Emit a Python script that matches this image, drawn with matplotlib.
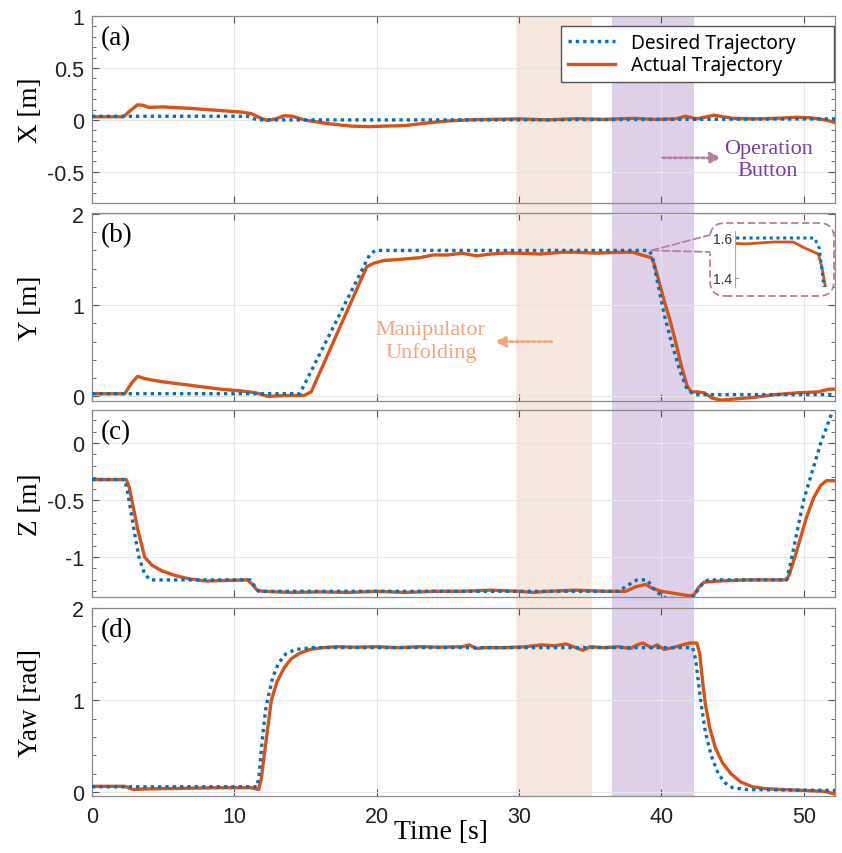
import numpy as np
import matplotlib
matplotlib.use("Agg")
import matplotlib.pyplot as plt
from matplotlib.patches import Rectangle, FancyBboxPatch, ConnectionPatch
from matplotlib.lines import Line2D
from matplotlib.ticker import MultipleLocator
import matplotlib.transforms as mtrans

# ---------------- data ----------------
t_x_des = [0, 10.9, 11.6, 30, 52.2]
x_des = [0.035, 0.035, 0.0, 0.0, 0.01]
t_x_act = [0, 2.2, 2.7, 3.2, 3.6, 4.0, 5.0, 7, 9, 10.5, 11.2, 11.8, 12.3, 12.9, 13.5, 14.1,
           14.9, 16.5, 18.2, 19.5, 20.5, 22, 23.5, 25, 26.5, 28, 30, 32, 34, 36, 38, 39.5,
           41, 41.7, 42.5, 43.7, 45, 46.5, 48, 49.5, 50.5, 51.5, 52.2]
x_act = [0.03, 0.03, 0.09, 0.145, 0.14, 0.12, 0.125, 0.11, 0.09, 0.075, 0.06, 0.02, -0.005,
         0.01, 0.04, 0.035, 0.0, -0.035, -0.06, -0.065, -0.06, -0.055, -0.03, -0.01, 0.0,
         0.005, 0.01, 0.0, 0.012, 0.005, 0.015, 0.005, 0.01, 0.035, 0.01, 0.045, 0.015,
         0.01, 0.015, 0.025, 0.02, 0.0, -0.025]

t_y_des = [0, 14.6, 19.5, 19.9, 39.1, 39.35, 39.6, 40.2, 40.7, 41.3, 41.8, 42.3, 52.2]
y_des = [0.03, 0.03, 1.55, 1.6, 1.6, 1.55, 1.35, 0.9, 0.6, 0.28, 0.08, 0.02, 0.02]
t_y_act = [0, 2.3, 2.8, 3.2, 3.6, 4.2, 5, 7, 9, 10.5, 11.5, 12.4, 13.5, 14.9, 15.4, 19.3,
           19.8, 20.5, 21.5, 23, 24, 25, 26, 27, 28, 29, 30, 31.5, 33, 34, 35.5, 37, 38,
           38.6, 39.3, 39.5, 39.8, 40.2, 40.6, 41.0, 41.4, 41.8, 42.1, 42.5, 43, 43.6, 44.2,
           45, 46.5, 48, 49.6, 51, 51.8, 52.2]
y_act = [0.03, 0.03, 0.15, 0.22, 0.2, 0.18, 0.16, 0.12, 0.08, 0.06, 0.04, 0.0, 0.01, 0.01,
         0.05, 1.42, 1.46, 1.49, 1.5, 1.52, 1.55, 1.55, 1.57, 1.54, 1.56, 1.57, 1.57, 1.56,
         1.58, 1.58, 1.57, 1.58, 1.58, 1.55, 1.52, 1.45, 1.28, 1.05, 0.84, 0.6, 0.34, 0.12,
         0.05, 0.05, 0.04, -0.02, -0.04, -0.03, -0.01, 0.02, 0.04, 0.05, 0.08, 0.08]

t_z_des = [0, 2.3, 2.45, 2.6, 3.0, 3.3, 3.7, 4.1, 10.8, 11.1, 11.7, 37.0, 37.6, 38.3, 39.0,
           39.6, 40.3, 42.1, 42.5, 42.9, 43.3, 48.8, 49.0, 50.0, 51.2, 52.2]
z_des = [-0.32, -0.32, -0.4, -0.5, -0.8, -1.0, -1.15, -1.2, -1.2, -1.2, -1.3, -1.3, -1.25,
         -1.2, -1.2, -1.3, -1.36, -1.37, -1.3, -1.23, -1.2, -1.2, -1.1, -0.5, 0.0, 0.34]
t_z_act = [0, 2.4, 2.6, 2.8, 3.2, 3.7, 4.2, 4.9, 5.8, 6.8, 8, 10.9, 11.2, 11.6, 12.0, 14, 16,
           18, 20, 22, 24, 26, 28, 30, 31, 32, 34, 36, 37.5, 38.2, 38.9, 39.3, 40, 41, 42.0,
           42.3, 42.6, 43.0, 44, 46, 48.8, 49.0, 49.5, 50.2, 50.7, 51.2, 51.6, 52.2]
z_act = [-0.32, -0.32, -0.38, -0.5, -0.75, -1.0, -1.07, -1.12, -1.16, -1.19, -1.21, -1.2,
         -1.23, -1.29, -1.3, -1.31, -1.305, -1.31, -1.3, -1.31, -1.3, -1.3, -1.29, -1.3,
         -1.31, -1.3, -1.29, -1.3, -1.3, -1.26, -1.24, -1.27, -1.3, -1.32, -1.34, -1.33,
         -1.27, -1.22, -1.21, -1.2, -1.2, -1.15, -0.95, -0.65, -0.48, -0.37, -0.33, -0.33]

t_yaw_des = [0, 11.6, 11.75, 11.95, 12.2, 12.4, 12.7, 13.1, 13.6, 14.3, 15.5, 17, 42.2, 42.4,
             42.6, 42.8, 43.1, 43.5, 44.0, 44.5, 45, 46, 52.2]
yaw_des = [0.06, 0.06, 0.2, 0.55, 0.9, 1.05, 1.25, 1.4, 1.5, 1.55, 1.57, 1.57, 1.57, 1.45,
           1.2, 0.95, 0.65, 0.4, 0.2, 0.1, 0.05, 0.03, 0.02]
t_yaw_act = [0, 2.3, 2.9, 3.5, 5, 7, 9, 10.5, 11.2, 11.7, 11.9, 12.1, 12.35, 12.6, 13.0, 13.5,
             14.0, 14.6, 15.3, 16.2, 17.2, 18.5, 20, 21.5, 23, 24.5, 26, 26.5, 27, 27.5, 29,
             30.5, 31.5, 32.5, 33.3, 34, 34.5, 35, 36, 37, 37.8, 38.3, 38.7, 39.3, 39.7, 40.2,
             40.8, 41.5, 42.0, 42.5, 42.7, 42.9, 43.1, 43.4, 43.8, 44.3, 44.9, 45.6, 46.4,
             47.3, 48.5, 50, 51.5, 52.2]
yaw_act = [0.065, 0.065, 0.03, 0.035, 0.04, 0.045, 0.05, 0.05, 0.05, 0.03, 0.15, 0.4, 0.7,
           1.0, 1.2, 1.35, 1.45, 1.51, 1.55, 1.57, 1.58, 1.575, 1.58, 1.57, 1.58, 1.575, 1.58,
           1.6, 1.56, 1.57, 1.57, 1.58, 1.6, 1.59, 1.61, 1.57, 1.54, 1.58, 1.57, 1.58, 1.56,
           1.6, 1.62, 1.57, 1.6, 1.55, 1.57, 1.6, 1.62, 1.62, 1.5, 1.2, 0.95, 0.7, 0.48, 0.32,
           0.2, 0.11, 0.06, 0.04, 0.03, 0.02, 0.01, -0.02]

span_unfold = (29.8, 35.1)
span_button = (36.5, 42.3)

ylabels = ["X [m]", "Y [m]", "Z [m]", "Yaw [rad]"]
tags = ["(a)", "(b)", "(c)", "(d)"]
ylims = [(-0.8, 1.0), (-0.05, 2.01), (-1.35, 0.29), (-0.04, 2.0)]
yticks = [[-0.5, 0, 0.5, 1], [0, 1, 2], [-1, -0.5, 0], [0, 1, 2]]
yticklabels = [["-0.5", "0", "0.5", "1"], ["0", "1", "2"], ["-1", "-0.5", "0"], ["0", "1", "2"]]
yminor = [0.1, 0.2, 0.1, 0.2]
xticks = [0, 10, 20, 30, 40, 50]

# ---------------- style ----------------
C_DES = "#0072BD"
C_ACT = "#D95319"
C_UNFOLD = "#F6E8DF"
C_BUTTON = "#DDD0E8"
C_MAUVE = "#B47FA3"
SERIF = "Liberation Serif"
SANS = "Liberation Sans"

fig = plt.figure(figsize=(8.42, 8.54), dpi=100)
W, H = 842, 854
left, right = 92 / W, 835 / W
rows = [(17, 204), (214, 402), (411, 598), (609, 797)]

axes = []
for top, bot in rows:
    ax = fig.add_axes([left, 1 - bot / H, right - left, (bot - top) / H])
    ax.set_facecolor("none")
    axes.append(ax)

series = [(t_x_des, x_des, t_x_act, x_act), (t_y_des, y_des, t_y_act, y_act),
          (t_z_des, z_des, t_z_act, z_act), (t_yaw_des, yaw_des, t_yaw_act, yaw_act)]

for i, ax in enumerate(axes):
    td, vd, ta, va = series[i]
    ax.plot(ta, va, color=C_ACT, lw=2.4, zorder=3, label="Actual Trajectory")
    ax.plot(td, vd, color=C_DES, lw=2.4, ls=(0, (1, 1.2)), zorder=4, label="Desired Trajectory")
    ax.set_xlim(0, 52.2)
    ax.set_ylim(*ylims[i])
    ax.set_yticks(yticks[i])
    ax.set_yticklabels(yticklabels[i], fontfamily=SANS, fontsize=15.5)
    ax.yaxis.set_minor_locator(MultipleLocator(yminor[i]))
    ax.set_xticks(xticks)
    ax.grid(True, color="#E6E6E6", lw=0.8)
    ax.set_axisbelow(True)
    ax.tick_params(which="both", direction="in", top=True, right=True, colors="#555555",
                   labelcolor="#222222")
    ax.tick_params(which="major", length=5)
    ax.tick_params(which="minor", length=3)
    ax.tick_params(axis="y", pad=5.5)
    ax.tick_params(axis="x", pad=7)
    for s in ax.spines.values():
        s.set_color("#8C8C8C")
        s.set_linewidth(0.9)
    ax.set_ylabel(ylabels[i], fontfamily=SERIF, fontsize=19.5)
    ax.yaxis.set_label_coords(-0.066, 0.5)
    ax.text(0.012, 0.95, tags[i], transform=ax.transAxes, fontfamily=SERIF, fontsize=19.5,
            va="top", ha="left")
    if i < 3:
        ax.tick_params(labelbottom=False)
    else:
        ax.set_xticklabels([str(v) for v in xticks], fontfamily=SANS, fontsize=15.5)
        ax.set_xlabel("Time [s]", fontfamily=SERIF, fontsize=20)
        ax.xaxis.set_label_coords(0.47, -0.12)

# shaded phases spanning all panels
trans = mtrans.blended_transform_factory(axes[0].transData, fig.transFigure)
for (x0, x1), col in [(span_unfold, C_UNFOLD), (span_button, C_BUTTON)]:
    fig.add_artist(Rectangle((x0, 1 - 797 / H), x1 - x0, (797 - 17) / H, transform=trans,
                             facecolor=col, edgecolor="none", zorder=-1))

# legend
h, l = axes[0].get_legend_handles_labels()
leg = axes[0].legend(h[::-1], l[::-1], loc="upper left",
                     bbox_to_anchor=(0.631, 0.5, 0.367, 0.447), mode="expand",
                     borderaxespad=0, prop={"family": "Noto Sans", "size": 13.75},
                     fancybox=False, edgecolor="#555555", framealpha=1, handlelength=2.5,
                     handletextpad=0.8, borderpad=0.35, labelspacing=0.15)
leg.get_frame().set_linewidth(1.0)

# annotations
axes[0].annotate("", xy=(44.4, -0.365), xytext=(39.9, -0.365),
                 arrowprops=dict(arrowstyle="-|>", color=C_MAUVE, lw=2, ls=(0, (1, 1)),
                                 mutation_scale=16))
axes[0].text(47.5, -0.385, "Operation\nButton", color="#7A3CA6", fontfamily=SERIF,
             fontsize=16, ha="center", va="center", linespacing=1.2)
axes[1].annotate("", xy=(28.1, 0.6), xytext=(32.5, 0.6),
                 arrowprops=dict(arrowstyle="-|>", color="#F4A57C", lw=2, ls=(0, (1, 1)),
                                 mutation_scale=16))
axes[1].text(23.8, 0.61, "Manipulator\nUnfolding", color="#F4A57C", fontfamily=SERIF,
             fontsize=16, ha="center", va="center", linespacing=1.2)

# inset in (b), drawn as a callout bubble
box = FancyBboxPatch((710 / W, 1 - 297 / H), 124 / W, 73 / H, transform=fig.transFigure,
                     boxstyle="round,pad=0,rounding_size=0.018", facecolor="white",
                     edgecolor=C_MAUVE, lw=1.3, ls=(0, (4, 2)), zorder=5)
fig.add_artist(box)
# open the bubble edge where the pointer joins
fig.add_artist(Line2D([710 / W, 710 / W], [1 - 237.5 / H, 1 - 251.5 / H],
                      transform=fig.transFigure, color="white", lw=2.5, zorder=5.5))

axi = fig.add_axes([735 / W, 1 - 288 / H, 92 / W, 56 / H])
axi.set_facecolor("none")
axi.set_zorder(6)
axi.plot(t_y_act, y_act, color=C_ACT, lw=2)
axi.plot(t_y_des, y_des, color=C_DES, lw=2.2, ls=(0, (1, 1.2)))
axi.set_xlim(35.0, 39.75)
axi.set_ylim(1.355, 1.635)
axi.set_yticks([1.4, 1.6])
axi.set_yticklabels(["1.4", "1.6"], fontfamily=SANS, fontsize=10)
axi.set_xticks([])
for k in ["top", "right", "bottom"]:
    axi.spines[k].set_visible(False)
axi.spines["left"].set_color("#AAAAAA")
axi.tick_params(direction="in", length=3, colors="#999999", labelcolor="#333333", pad=2)

for yy in (236, 253):
    con = ConnectionPatch(xyA=(39.3, 1.6), coordsA=axes[1].transData,
                          xyB=(710 / W, 1 - yy / H), coordsB=fig.transFigure,
                          color=C_MAUVE, lw=1.3, ls=(0, (4, 2)), zorder=7)
    fig.add_artist(con)

fig.savefig("out.png", dpi=100)
